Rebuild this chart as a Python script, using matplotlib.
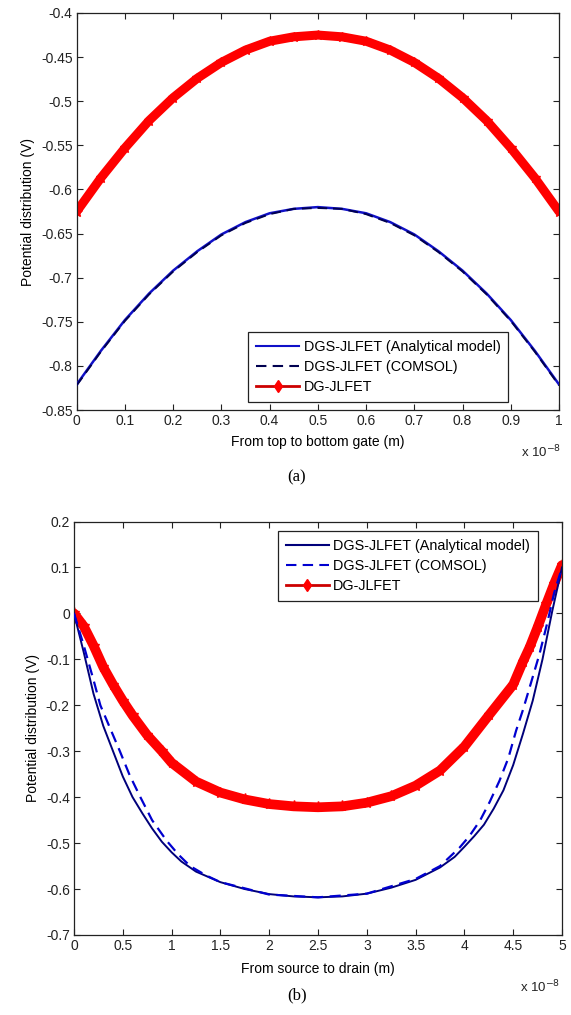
import matplotlib
matplotlib.use("Agg")
import matplotlib.pyplot as plt
from matplotlib.lines import Line2D

plt.rcParams['font.family'] = ['Liberation Sans', 'DejaVu Sans']

# ---------------- Data (a): across the channel, x in units of 1e-8 m ----------------
x_a = [0.0, 0.05, 0.1, 0.15, 0.2, 0.25, 0.3, 0.35, 0.4, 0.45, 0.5,
       0.55, 0.6, 0.65, 0.7, 0.75, 0.8, 0.85, 0.9, 0.95, 1.0]
dgs_analytical_a = [-0.821, -0.783, -0.748, -0.718, -0.692, -0.670, -0.651, -0.637, -0.627, -0.622, -0.620,
                    -0.622, -0.627, -0.637, -0.651, -0.670, -0.692, -0.718, -0.748, -0.783, -0.821]
dgs_comsol_a = [-0.822, -0.784, -0.749, -0.719, -0.693, -0.671, -0.652, -0.638, -0.628, -0.622, -0.621,
                -0.622, -0.628, -0.638, -0.652, -0.671, -0.693, -0.719, -0.749, -0.784, -0.822]
dg_a = [-0.625, -0.587, -0.553, -0.522, -0.496, -0.474, -0.456, -0.442, -0.432, -0.427, -0.425,
        -0.427, -0.432, -0.442, -0.456, -0.474, -0.496, -0.522, -0.553, -0.587, -0.625]

# ---------------- Data (b): source to drain, x in units of 1e-8 m ----------------
x_b_an = [0.0, 0.1, 0.2, 0.3, 0.4, 0.5, 0.6, 0.7, 0.8, 0.9, 1.0, 1.1, 1.25, 1.5, 1.75,
          2.0, 2.25, 2.5, 2.75, 3.0, 3.25, 3.5, 3.75, 3.9, 4.0, 4.1, 4.2, 4.3, 4.4,
          4.5, 4.6, 4.7, 4.8, 4.9, 5.0]
dgs_analytical_b = [0.0, -0.085, -0.175, -0.245, -0.300, -0.355, -0.400, -0.435, -0.468, -0.497,
                    -0.520, -0.540, -0.562, -0.585, -0.600, -0.611, -0.616, -0.618, -0.616,
                    -0.610, -0.597, -0.580, -0.553, -0.530, -0.508, -0.485, -0.460, -0.425,
                    -0.385, -0.330, -0.262, -0.190, -0.100, 0.005, 0.100]
x_b_cs = [0.0, 0.1, 0.2, 0.27, 0.37, 0.47, 0.57, 0.68, 0.8, 0.95, 1.07, 1.19, 1.35, 1.5,
          2.0, 2.5, 3.0, 3.5, 3.75, 3.95, 4.05, 4.16, 4.26, 4.36, 4.45, 4.53, 4.6,
          4.67, 4.77, 4.85, 4.92, 5.0]
dgs_comsol_b = [0.0, -0.070, -0.145, -0.200, -0.250, -0.300, -0.352, -0.400, -0.450, -0.495,
                -0.525, -0.550, -0.570, -0.585, -0.612, -0.618, -0.610, -0.578, -0.550,
                -0.510, -0.485, -0.451, -0.410, -0.364, -0.315, -0.255, -0.210, -0.160,
                -0.088, -0.020, 0.045, 0.100]
x_b_dg = [0.0, 0.1, 0.2, 0.3, 0.4, 0.5, 0.6, 0.75, 0.9, 1.0, 1.25, 1.5, 1.75, 2.0, 2.25,
          2.5, 2.75, 3.0, 3.25, 3.5, 3.75, 4.0, 4.25, 4.5, 4.6, 4.67, 4.75, 4.84, 4.92, 5.0]
dg_b = [0.0, -0.028, -0.070, -0.117, -0.155, -0.190, -0.222, -0.265, -0.300, -0.325, -0.366,
        -0.390, -0.405, -0.415, -0.420, -0.422, -0.420, -0.412, -0.398, -0.375, -0.342,
        -0.290, -0.222, -0.155, -0.105, -0.073, -0.030, 0.021, 0.065, 0.105]

labels = ['DGS-JLFET (Analytical model)', 'DGS-JLFET (COMSOL)', 'DG-JLFET']

xticks_a = [0, 0.1, 0.2, 0.3, 0.4, 0.5, 0.6, 0.7, 0.8, 0.9, 1]
xticklabels_a = ['0', '0.1', '0.2', '0.3', '0.4', '0.5', '0.6', '0.7', '0.8', '0.9', '1']
yticks_a = [-0.85, -0.8, -0.75, -0.7, -0.65, -0.6, -0.55, -0.5, -0.45, -0.4]
yticklabels_a = ['-0.85', '-0.8', '-0.75', '-0.7', '-0.65', '-0.6', '-0.55', '-0.5', '-0.45', '-0.4']
xticks_b = [0, 0.5, 1, 1.5, 2, 2.5, 3, 3.5, 4, 4.5, 5]
xticklabels_b = ['0', '0.5', '1', '1.5', '2', '2.5', '3', '3.5', '4', '4.5', '5']
yticks_b = [-0.7, -0.6, -0.5, -0.4, -0.3, -0.2, -0.1, 0, 0.1, 0.2]
yticklabels_b = ['-0.7', '-0.6', '-0.5', '-0.4', '-0.3', '-0.2', '-0.1', '0', '0.1', '0.2']

W, H = 571, 1015
fig = plt.figure(figsize=(W / 100, H / 100), dpi=100)

def fr(l, t, r, b):
    return [l / W, 1 - b / H, (r - l) / W, (b - t) / H]

ax1 = fig.add_axes(fr(76.7, 13, 559, 410))
ax2 = fig.add_axes(fr(74, 521.5, 562, 935))

RED = '#ff0000'

def style(ax, xt, xtl, yt, ytl, xlim, ylim):
    ax.set_xlim(*xlim)
    ax.set_ylim(*ylim)
    ax.set_xticks(xt)
    ax.set_xticklabels(xtl)
    ax.set_yticks(yt)
    ax.set_yticklabels(ytl)
    ax.tick_params(direction='in', top=True, right=True, length=4, width=0.8,
                   labelsize=10, colors='#222222', pad=3)
    for s in ax.spines.values():
        s.set_linewidth(0.9)
        s.set_color('#222222')

def leg(ax, handles, loc, anchor):
    lg = ax.legend(handles, labels, loc=loc, bbox_to_anchor=anchor,
                   borderaxespad=0, fontsize=10.4, fancybox=False, edgecolor='#222222',
                   framealpha=1, handlelength=3.0, handletextpad=0.3, labelspacing=0.4,
                   borderpad=0.55)
    lg.get_frame().set_linewidth(0.9)
    return lg

# ---- (a)
ax1.plot(x_a, dgs_analytical_a, color='#1010c8', lw=1.8, zorder=3)
ax1.plot(x_a, dgs_comsol_a, color='#000050', lw=1.4, dashes=(5, 3), zorder=4)
ax1.plot(x_a, dg_a, color=RED, lw=6.5, solid_capstyle='round', zorder=2)
ax1.plot(x_a, dg_a, color=RED, lw=0, marker='*', ms=7, mew=1.0, zorder=2)
style(ax1, xticks_a, xticklabels_a, yticks_a, yticklabels_a, (0, 1), (-0.85, -0.4))
ax1.set_xlabel('From top to bottom gate (m)', fontsize=10, labelpad=5)
ax1.set_ylabel('Potential distribution (V)', fontsize=10, labelpad=4)
ax1.text(0.962, -0.107, r'x 10$^{-8}$', transform=ax1.transAxes, fontsize=9.5,
         ha='center', va='center', color='#222222')
h1 = [Line2D([], [], color='#1010c8', lw=1.5),
      Line2D([], [], color='#000050', lw=1.5, dashes=(5, 3)),
      Line2D([], [], color='#cc0000', lw=2, marker='d', ms=6, mfc=RED, mec=RED)]
leg(ax1, h1, 'lower right', (0.895, 0.021))

# ---- (b)
ax2.plot(x_b_an, dgs_analytical_b, color='#00007a', lw=1.4, zorder=3)
ax2.plot(x_b_cs, dgs_comsol_b, color='#0000d0', lw=1.6, dashes=(5, 3), zorder=4)
ax2.plot(x_b_dg, dg_b, color=RED, lw=7, solid_capstyle='round', zorder=2)
ax2.plot(x_b_dg, dg_b, color=RED, lw=0, marker='*', ms=8, mew=1.0, zorder=2)
style(ax2, xticks_b, xticklabels_b, yticks_b, yticklabels_b, (0, 5), (-0.7, 0.2))
ax2.set_xlabel('From source to drain (m)', fontsize=10, labelpad=6)
ax2.set_ylabel('Potential distribution (V)', fontsize=10, labelpad=4)
ax2.text(0.955, -0.126, r'x 10$^{-8}$', transform=ax2.transAxes, fontsize=9.5,
         ha='center', va='center', color='#222222')
h2 = [Line2D([], [], color='#00007a', lw=1.5),
      Line2D([], [], color='#0000d0', lw=1.5, dashes=(5, 3)),
      Line2D([], [], color='#cc0000', lw=2, marker='d', ms=6, mfc=RED, mec=RED)]
leg(ax2, h2, 'upper right', (0.951, 0.976))

fig.text(297 / W, 1 - 477 / H, '(a)', fontsize=12, family=['Liberation Serif', 'DejaVu Serif'],
         ha='center', va='center')
fig.text(297 / W, 1 - 995 / H, '(b)', fontsize=12, family=['Liberation Serif', 'DejaVu Serif'],
         ha='center', va='center')

fig.savefig('out.png', dpi=100, facecolor='white')
